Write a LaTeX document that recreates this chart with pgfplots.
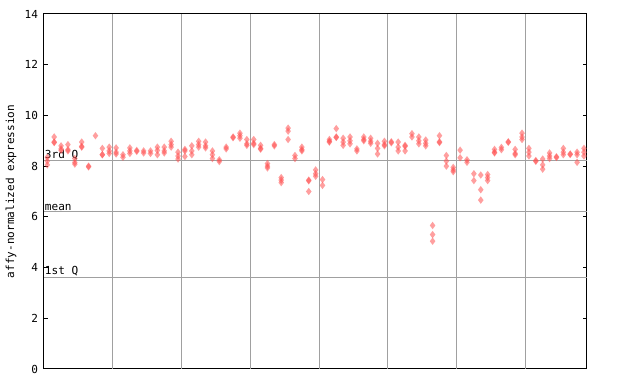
\documentclass[border=0pt]{standalone}
\usepackage{fontspec}
\setmonofont{DejaVu Sans Mono}
\usepackage{pgfplots}
\pgfplotsset{compat=1.18}
\usepackage{pgfplotstable}
\definecolor{myred}{RGB}{255,80,80}
\definecolor{lgray}{RGB}{160,160,160}
\pgfplotstableread{
x y
0 8.35
0 8.2
0 8.05
1 9.15
1 8.95
1 8.93
2 8.8
2 8.68
2 8.62
3 8.85
3 8.65
3 8.6
4 8.3
4 8.15
4 8.08
5 8.95
5 8.78
5 8.75
6 8.0
6 7.97
7 9.2
8 8.7
8 8.45
8 8.45
9 8.75
9 8.6
9 8.5
10 8.72
10 8.55
10 8.48
11 8.45
11 8.35
12 8.72
12 8.6
12 8.5
13 8.62
13 8.58
14 8.6
14 8.52
15 8.6
15 8.5
16 8.75
16 8.62
16 8.45
17 8.75
17 8.6
17 8.52
18 8.98
18 8.85
18 8.75
19 8.55
19 8.4
19 8.28
20 8.66
20 8.6
20 8.38
21 8.8
21 8.6
21 8.45
22 8.98
22 8.85
22 8.75
23 8.95
23 8.8
23 8.72
24 8.6
24 8.45
24 8.3
25 8.25
25 8.18
26 8.75
26 8.68
27 9.15
27 9.12
28 9.3
28 9.2
28 9.1
29 9.05
29 8.88
29 8.82
30 9.05
30 8.9
30 8.85
31 8.82
31 8.7
31 8.67
32 8.1
32 8.0
32 7.93
33 8.85
33 8.8
34 7.55
34 7.45
34 7.35
35 9.5
35 9.38
35 9.05
36 8.42
36 8.3
37 8.75
37 8.65
37 8.6
38 7.45
38 7.42
38 7.0
39 7.85
39 7.7
39 7.6
40 7.47
40 7.24
41 9.05
41 8.98
41 8.95
42 9.48
42 9.15
42 9.13
43 9.1
43 8.95
43 8.82
44 9.15
44 9.0
44 8.88
45 8.68
45 8.6
46 9.15
46 9.05
46 9.0
47 9.1
47 8.98
47 8.9
48 8.9
48 8.7
48 8.48
49 8.98
49 8.85
49 8.8
50 8.96
50 8.92
51 8.95
51 8.75
51 8.6
52 8.82
52 8.78
52 8.6
53 9.28
53 9.15
54 9.15
54 9.0
54 8.88
55 9.03
55 8.9
55 8.8
56 5.66
56 5.3
56 5.04
57 9.2
57 8.96
57 8.93
58 8.42
58 8.2
58 8.0
59 7.95
59 7.85
59 7.78
60 8.63
60 8.33
61 8.25
61 8.15
62 7.7
62 7.43
63 7.65
63 7.07
63 6.66
64 7.67
64 7.55
64 7.43
65 8.66
65 8.55
65 8.52
66 8.74
66 8.65
67 8.96
67 8.94
68 8.66
68 8.5
68 8.45
69 9.3
69 9.15
69 9.05
70 8.7
70 8.55
70 8.4
71 8.22
71 8.19
72 8.28
72 8.05
72 7.88
73 8.52
73 8.4
73 8.3
74 8.37
74 8.34
75 8.7
75 8.55
75 8.45
76 8.48
76 8.46
77 8.55
77 8.45
77 8.15
78 8.7
78 8.55
78 8.4
}\pts
\begin{document}
\begin{tikzpicture}
\useasboundingbox (-33pt,-11.25pt) rectangle (447pt,276.75pt);
\begin{axis}[
  at={(0,0)}, anchor=south west,
  scale only axis, width=407.25pt, height=266.25pt,
  xmin=-0.48, xmax=78.44, ymin=0, ymax=14,
  xtick=\empty,
  extra x ticks={9.5,19.5,29.5,39.5,49.5,59.5,69.5},
  extra x tick labels={},
  extra x tick style={grid=major, major grid style={lgray, line width=0.75pt}, major tick length=0pt},
  ytick={0,2,4,6,8,10,12,14},
  tick align=inside, major tick length=3pt,
  ytick pos=both,
  tick style={black, line width=0.75pt},
  /pgf/number format/assume math mode=true,
  yticklabel style={font=\ttfamily\fontsize{8.3}{10}\selectfont, xshift=-1pt},
  ylabel={affy-normalized expression},
  ylabel style={font=\ttfamily\fontsize{8.3}{10}\selectfont, at={(axis description cs:-0.0608,0.5)}, anchor=center},
  axis line style={black, line width=0.75pt},
  clip=false,
]
\draw[lgray, line width=0.75pt] (axis cs:-0.48,8.22) -- (axis cs:78.44,8.22);
\draw[lgray, line width=0.75pt] (axis cs:-0.48,6.21) -- (axis cs:78.44,6.21);
\draw[lgray, line width=0.75pt] (axis cs:-0.48,3.62) -- (axis cs:78.44,3.62);
\node[anchor=south west, inner sep=0.5pt, font=\ttfamily\fontsize{8.3}{10}\selectfont] at (axis cs:-0.48,8.22) {3rd Q};
\node[anchor=south west, inner sep=0.5pt, font=\ttfamily\fontsize{8.3}{10}\selectfont] at (axis cs:-0.48,6.21) {mean};
\node[anchor=south west, inner sep=0.5pt, font=\ttfamily\fontsize{8.3}{10}\selectfont] at (axis cs:-0.48,3.62) {1st Q};
\addplot[only marks, mark=diamond*, mark size=2.8pt, color=myred, draw=myred, fill=myred,
  draw opacity=0, fill opacity=0.55,
  mark options={draw=myred, fill=myred, draw opacity=0, fill opacity=0.55}] table[x=x,y=y] {\pts};
\end{axis}
\end{tikzpicture}
\end{document}
